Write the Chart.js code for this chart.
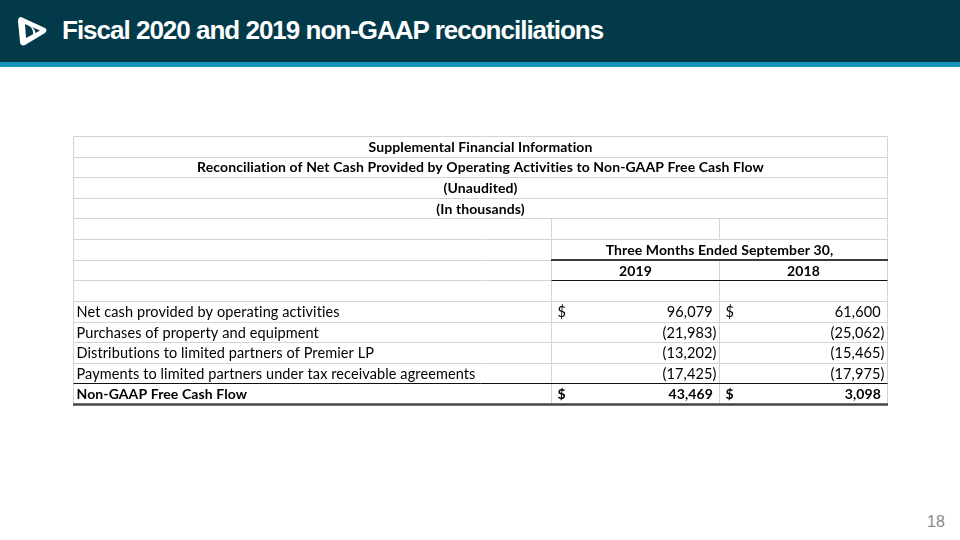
<!DOCTYPE html>
<html>
<head>
<meta charset="utf-8">
<script src="https://cdn.jsdelivr.net/npm/chart.js@4.4.0/dist/chart.umd.min.js"></script>
<style>
  html, body { margin: 0; padding: 0; background: #fff; }
  body { width: 960px; height: 540px; position: relative; overflow: hidden; font-family: "Liberation Sans", Arial, sans-serif; }
  .bar { position: absolute; left: 0; top: 0; width: 960px; height: 62px; background: #023a4a; }
  .stripe { position: absolute; left: 0; top: 62px; width: 960px; height: 5px; background: #1796ba; }
  .title { position: absolute; left: 62px; top: 15px; color: #fff; font-weight: bold; font-size: 26px; letter-spacing: -1px; white-space: nowrap; }
  .logo { position: absolute; left: 15px; top: 14px; }
  .page { position: absolute; left: 927px; top: 513px; color: #8a8a8a; font-size: 16px; }
  #wrap { position: absolute; left: 70px; top: 133px; width: 820px; height: 274px; }
</style>
</head>
<body>
<div class="bar"></div>
<div class="stripe"></div>
<svg class="logo" width="34" height="34" viewBox="0 0 34 34">
  <path d="M6 3 C4 3 3 5 3 7 L5 28 C5 31 8 32 10 31 L30 19 C32 17 32 15 30 14 Z" fill="#fff"/>
  <path d="M10 10 L25 16.5 L11 24 Z" fill="#023a4a"/>
  <path d="M10 10 C17 12 20 17 17 25 L20 23 C22 17 18 11 10 10 Z" fill="#fff"/>
</svg>
<div class="title">Fiscal 2020 and 2019 non-GAAP reconciliations</div>
<div class="page">18</div>
<div id="wrap"><canvas id="table_chart" width="820" height="274"></canvas></div>
<script>
// table text
const title_lines = [
    'Supplemental Financial Information',
    'Reconciliation of Net Cash Provided by Operating Activities to Non-GAAP Free Cash Flow',
    '(Unaudited)',
    '(In thousands)'
];
const period_header = 'Three Months Ended September 30,';
const periods = ['2019', '2018'];
const line_items = [
    'Net cash provided by operating activities',
    'Purchases of property and equipment',
    'Distributions to limited partners of Premier LP',
    'Payments to limited partners under tax receivable agreements',
    'Non-GAAP Free Cash Flow'
];
const values_2019 = [96079, -21983, -13202, -17425, 43469];
const values_2018 = [61600, -25062, -15465, -17975, 3098];

// rows of the sheet, top to bottom
const rows = [...title_lines, 'blank1', period_header, 'periods', 'blank2', ...line_items];
const first_item = rows.indexOf(line_items[0]);
const total_row = rows.length - 1;

// column edges in table units (0 = left edge of the table)
const COL_LABEL = 0, COL_A = 478, COL_B = 646, COL_END = 814;

const FONT = '"Lato", "Open Sans", sans-serif';
const REG = '14.5px ' + FONT;
const BOLD = 'bold 14px ' + FONT;

function fmt(v) {
    const s = Math.abs(v).toLocaleString('en-US');
    return v < 0 ? '(' + s + ')' : s + '\u00a0';
}

const tablePlugin = {
    id: 'reconTable',
    afterDraw(chart) {
        const ctx = chart.ctx;
        const x = chart.scales.x, y = chart.scales.y;
        const rowH = y.getPixelForValue(1) - y.getPixelForValue(0);
        const rowTop = i => y.getPixelForValue(i) - rowH / 2;
        const rowMid = i => y.getPixelForValue(i) + 1;
        const px = v => x.getPixelForValue(v);
        const crisp = v => Math.round(v) + 0.5;

        const hline = (yy, x0, x1, color, w) => {
            ctx.beginPath();
            ctx.strokeStyle = color;
            ctx.lineWidth = w;
            ctx.moveTo(x0, yy);
            ctx.lineTo(x1, yy);
            ctx.stroke();
        };
        const vline = (xx, y0, y1, color) => {
            ctx.beginPath();
            ctx.strokeStyle = color;
            ctx.lineWidth = 1;
            ctx.moveTo(xx, y0);
            ctx.lineTo(xx, y1);
            ctx.stroke();
        };

        ctx.save();
        const grid = '#d4d4d4';
        const L = crisp(px(COL_LABEL)), R = crisp(px(COL_END));
        const A = crisp(px(COL_A)), B = crisp(px(COL_B));

        // light cell grid
        for (let i = 0; i <= rows.length; i++) {
            hline(crisp(rowTop(i)), L, R, grid, 1);
        }
        vline(L, crisp(rowTop(0)), crisp(rowTop(rows.length)), grid);
        vline(R, crisp(rowTop(0)), crisp(rowTop(rows.length)), grid);
        const blankRow = rows.indexOf('blank1');
        vline(A, crisp(rowTop(blankRow)), crisp(rowTop(rows.length)), grid);
        vline(B, crisp(rowTop(blankRow)), crisp(rowTop(blankRow + 1)), grid);
        vline(B, crisp(rowTop(blankRow + 2)), crisp(rowTop(rows.length)), grid);

        // dark rules
        const headRow = rows.indexOf(period_header);
        hline(Math.round(rowTop(headRow + 1)), A - 0.5, R + 0.5, '#3a3a3a', 2);
        hline(crisp(rowTop(headRow + 2)), A, R, '#111', 1);
        hline(crisp(rowTop(total_row)), L, R, '#111', 1);
        hline(Math.round(rowTop(total_row + 1)) + 0.5, L - 0.5, R + 0.5, '#444', 2.5);

        ctx.fillStyle = '#000';
        ctx.textBaseline = 'middle';
        if ('letterSpacing' in ctx) ctx.letterSpacing = '0.1px';

        // titles across the sheet
        ctx.font = BOLD;
        ctx.textAlign = 'center';
        title_lines.forEach((t, i) => ctx.fillText(t, (L + R) / 2, rowMid(i)));
        ctx.fillText(period_header, (A + R) / 2, rowMid(headRow));
        ctx.fillText(periods[0], (A + B) / 2, rowMid(headRow + 1));
        ctx.fillText(periods[1], (B + R) / 2, rowMid(headRow + 1));

        // line items
        line_items.forEach((t, k) => {
            const r = first_item + k;
            const bold = r === total_row;
            ctx.font = bold ? BOLD : REG;
            ctx.textAlign = 'left';
            ctx.fillText(t, L + 3, rowMid(r));
            if (k === 0 || bold) {
                ctx.fillText('$', A + 6, rowMid(r));
                ctx.fillText('$', B + 6, rowMid(r));
            }
            ctx.textAlign = 'right';
            ctx.fillText(fmt(values_2019[k]), B - 3, rowMid(r));
            ctx.fillText(fmt(values_2018[k]), R - 3, rowMid(r));
        });
        ctx.restore();
    }
};

const chart_ctx = document.getElementById('table_chart').getContext('2d');
const table_chart = new Chart(chart_ctx, {
    type: 'bar',
    data: {
        labels: rows,
        datasets: [{ label: 'rows', data: [] }]
    },
    options: {
        responsive: false,
        animation: false,
        indexAxis: 'y',
        layout: { padding: { left: 3, right: 3, top: 3, bottom: 3 } },
        plugins: { legend: { display: false }, tooltip: { enabled: false } },
        scales: {
            x: { type: 'linear', min: 0, max: COL_END, display: false },
            y: { type: 'category', offset: true, display: false }
        }
    },
    plugins: [tablePlugin]
});
</script>
</body>
</html>
